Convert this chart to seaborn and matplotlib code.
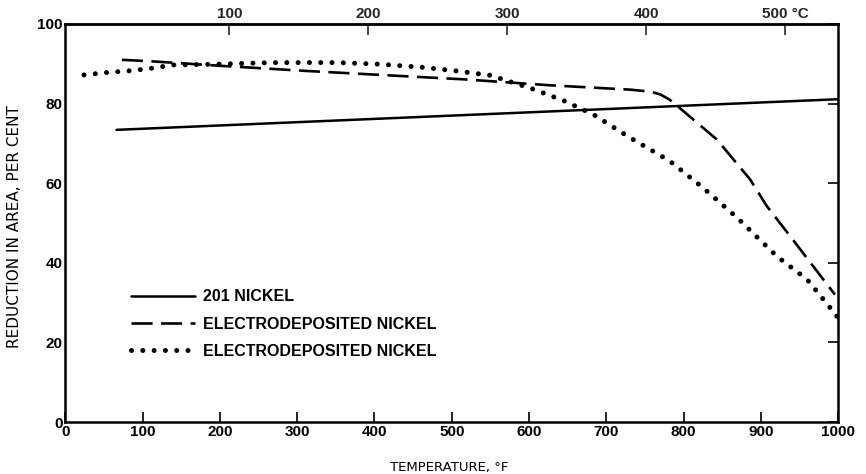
import numpy as np
import pandas as pd
import matplotlib
matplotlib.use("Agg")
import matplotlib.pyplot as plt
import seaborn as sns

# ---- data ----
solid_x = [66, 1000]
solid_y = [73.4, 81.1]

dash_x = [73, 113, 200, 312, 485, 515, 627, 731, 757, 770, 782, 792, 843, 886, 908, 938, 996]
dash_y = [91.0, 90.6, 89.5, 88.2, 86.4, 86.1, 84.6, 83.5, 83.0, 82.3, 81.0, 79.4, 71.0, 61.0, 54.2, 46.7, 32.0]

dot_x = [24, 53, 81, 109, 139, 196, 269, 351, 407, 463, 506, 550, 603, 644, 683, 731, 782, 825, 869, 921, 960, 992, 1000]
dot_y = [87.2, 87.8, 88.2, 88.8, 89.7, 89.9, 90.3, 90.3, 89.9, 89.1, 88.2, 87.1, 83.8, 80.8, 77.3, 71.4, 65.6, 58.9, 51.4, 41.6, 35.8, 28.2, 26.2]

labels = ["201 NICKEL", "ELECTRODEPOSITED NICKEL", "ELECTRODEPOSITED NICKEL"]
x_ticks = [0, 100, 200, 300, 400, 500, 600, 700, 800, 900, 1000]
y_ticks = [0, 20, 40, 60, 80, 100]
c_ticks = [100, 200, 300, 400, 500]
c_labels = ["100", "200", "300", "400", "500 °C"]

sns.set_theme(style="white")
plt.rcParams['font.family'] = ['Liberation Sans', 'DejaVu Sans']

fig = plt.figure(figsize=(8.66, 4.74), dpi=100)
ax = fig.add_axes([0.0756, 0.1097, 0.8921, 0.8397])

df_s = pd.DataFrame({"x": solid_x, "y": solid_y})
df_d = pd.DataFrame({"x": dash_x, "y": dash_y})
df_o = pd.DataFrame({"x": dot_x, "y": dot_y})

sns.lineplot(data=df_s, x="x", y="y", ax=ax, color="black", lw=1.8, label=labels[0], sort=False)
l2 = sns.lineplot(data=df_d, x="x", y="y", ax=ax, color="black", lw=1.9, label=labels[1], sort=False).lines[-1]
l2.set_dashes((8, 3.2))
l3 = sns.lineplot(data=df_o, x="x", y="y", ax=ax, color="black", lw=3.6, label=labels[2], sort=False).lines[-1]
l3.set_linestyle((0, (0.01, 2.25)))
l3.set_dash_capstyle("round")

ax.set_xlim(0, 1000)
ax.set_ylim(0, 100)
ax.set_xticks(x_ticks)
ax.set_yticks(y_ticks)
ax.tick_params(axis="both", direction="in", length=7, width=1.2, colors="black",
               labelsize=11, pad=2)
ax.tick_params(axis="y", right=True)
ax.tick_params(axis="x", bottom=True)
for lab in ax.get_xticklabels() + ax.get_yticklabels():
    lab.set_fontweight("bold")
for sp in ax.spines.values():
    sp.set_color("black")
    sp.set_linewidth(1.8)

ax.set_xlabel("TEMPERATURE, °F", fontsize=9.5, labelpad=0, family="DejaVu Sans", color="black")
ax.xaxis.set_label_coords(0.497, -0.098)
ax.set_ylabel("REDUCTION IN AREA, PER CENT", fontsize=11, labelpad=11, family="DejaVu Sans", color="black")
ax.yaxis.set_label_coords(-0.056, 0.49)

sec = ax.secondary_xaxis("top", functions=(lambda f: (f - 32) * 5 / 9, lambda c: c * 9 / 5 + 32))
sec.set_xticks(c_ticks)
sec.set_xticklabels(c_labels)
sec.tick_params(direction="in", length=8, width=1.2, labelsize=11, pad=2)
for lab in sec.get_xticklabels():
    lab.set_fontweight("bold")
sec.spines["top"].set_linewidth(1.8)

leg = ax.legend(loc="upper left", bbox_to_anchor=(0.066, 0.37), frameon=False,
                handlelength=4.0, handletextpad=0.5, labelspacing=0.78,
                prop={"size": 11.5, "weight": "bold"})
for t in leg.get_texts():
    t.set_color("black")

fig.savefig("out.png", dpi=100)
